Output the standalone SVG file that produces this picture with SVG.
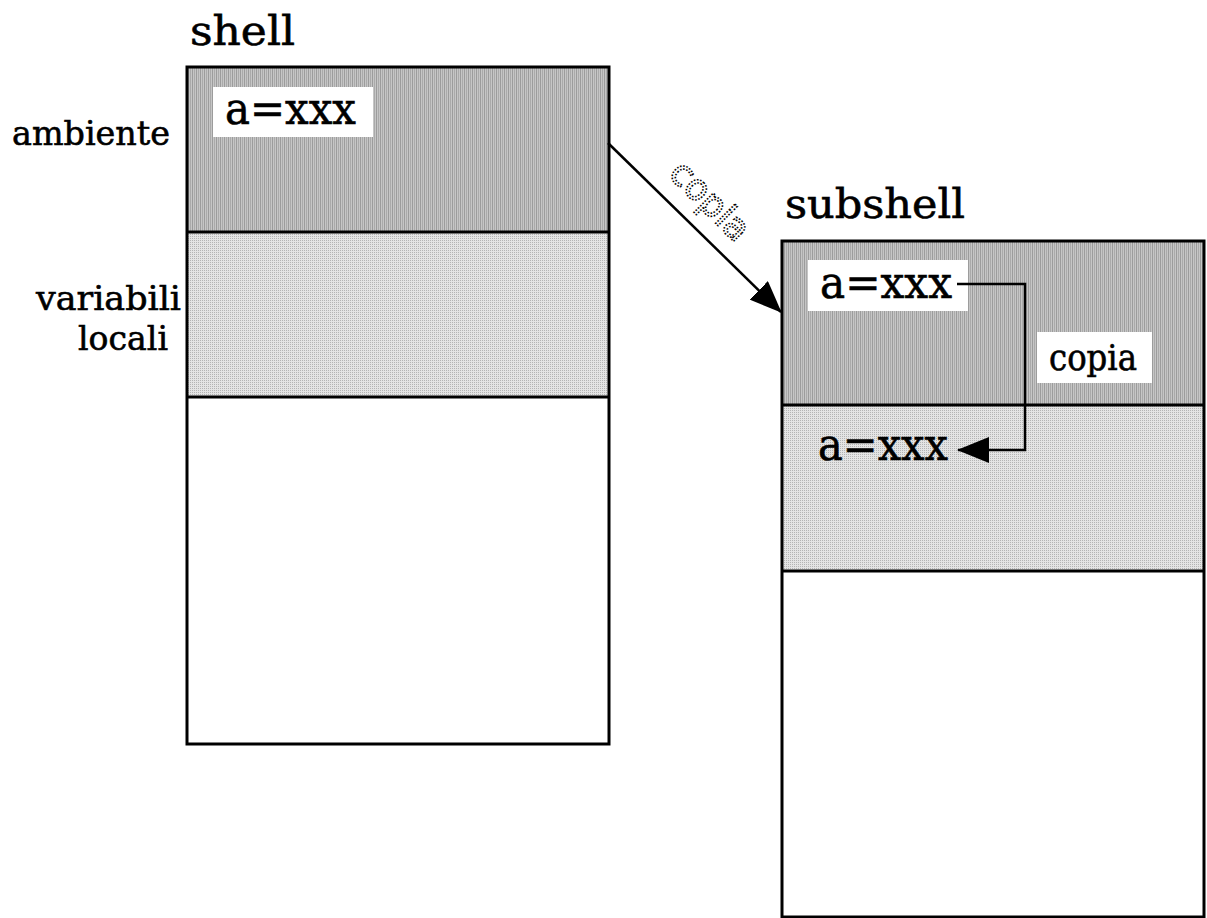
<svg xmlns="http://www.w3.org/2000/svg" width="1207" height="918" viewBox="0 0 1207 918">
<defs>
<pattern id="stripes" width="4" height="4" patternUnits="userSpaceOnUse">
<rect width="4" height="4" fill="#c6c6c6"/>
<rect x="0" width="1" height="4" fill="#9c9c9c"/>
<rect x="2" width="1" height="4" fill="#aaaaaa"/>
</pattern>
<pattern id="dots" width="2" height="2" patternUnits="userSpaceOnUse">
<rect width="2" height="2" fill="#e4e4e4"/>
<rect width="1" height="1" fill="#b4b4b4"/>
</pattern>
<marker id="arrow" viewBox="0 0 32 26" refX="31" refY="13" markerWidth="32" markerHeight="26" markerUnits="userSpaceOnUse" orient="auto">
<path d="M0,0 L32,13 L0,26 z" fill="#000"/>
</marker>
</defs>
<style>
.t{font-family:"DejaVu Serif","Liberation Serif",serif;fill:#000;stroke:#000;stroke-width:0.6}
.title{font-size:41px}
.side{font-size:34px}
.val{font-size:44px}
.small{font-size:35px}
.box{stroke:#000;stroke-width:3}
.div{stroke:#000;stroke-width:3;fill:none}
.lbl{fill:#fff}
.conn{stroke:#000;stroke-width:2.5;fill:none}
.dotted{font-family:"DejaVu Sans","Liberation Sans",sans-serif;font-size:36px;fill:#fff;stroke:#000;stroke-width:1.6;stroke-dasharray:1.6 1.6}
</style>
<rect width="1207" height="918" fill="#fff"/>

<g id="shell">
<text class="t title" x="190" y="45" textLength="105" lengthAdjust="spacingAndGlyphs">shell</text>
<rect x="187" y="67" width="422" height="165" fill="url(#stripes)"/>
<rect x="187" y="232" width="422" height="165" fill="url(#dots)"/>
<rect x="187" y="397" width="422" height="347" fill="#fff"/>
<rect class="box" x="187" y="67" width="422" height="677" fill="none"/>
<line class="div" x1="187" y1="232" x2="609" y2="232"/>
<line class="div" x1="187" y1="397" x2="609" y2="397"/>
<rect class="lbl" x="213" y="87" width="160" height="50"/>
<text class="t val" x="225" y="124" textLength="131" lengthAdjust="spacingAndGlyphs">a=xxx</text>
</g>

<g id="side-labels">
<text class="t side" x="12" y="145" textLength="158" lengthAdjust="spacingAndGlyphs">ambiente</text>
<text class="t side" x="36" y="310" textLength="145" lengthAdjust="spacingAndGlyphs">variabili</text>
<text class="t side" x="78" y="350" textLength="90" lengthAdjust="spacingAndGlyphs">locali</text>
</g>

<g id="subshell">
<text class="t title" x="785" y="218" textLength="180" lengthAdjust="spacingAndGlyphs">subshell</text>
<rect x="782" y="241" width="422" height="164" fill="url(#stripes)"/>
<rect x="782" y="405" width="422" height="166" fill="url(#dots)"/>
<rect x="782" y="571" width="422" height="346" fill="#fff"/>
<rect class="box" x="782" y="241" width="422" height="676" fill="none"/>
<line class="div" x1="782" y1="405" x2="1204" y2="405"/>
<line class="div" x1="782" y1="571" x2="1204" y2="571"/>
<rect class="lbl" x="808" y="260" width="160" height="51"/>
<text class="t val" x="820" y="298" textLength="132" lengthAdjust="spacingAndGlyphs">a=xxx</text>
<text class="t val" x="818" y="460" textLength="130" lengthAdjust="spacingAndGlyphs">a=xxx</text>
<rect class="lbl" x="1037" y="332" width="115" height="51"/>
<text class="t small" x="1049" y="370" textLength="88" lengthAdjust="spacingAndGlyphs">copia</text>
</g>

<g id="connectors">
<line class="conn" x1="608" y1="143" x2="781" y2="312" marker-end="url(#arrow)"/>
<text class="dotted" transform="translate(708,203) rotate(45)" x="0" y="9" text-anchor="middle" textLength="97" lengthAdjust="spacingAndGlyphs">copia</text>
<polyline class="conn" points="957,284 1025,284 1025,450 958,450" marker-end="url(#arrow)"/>
</g>
</svg>
